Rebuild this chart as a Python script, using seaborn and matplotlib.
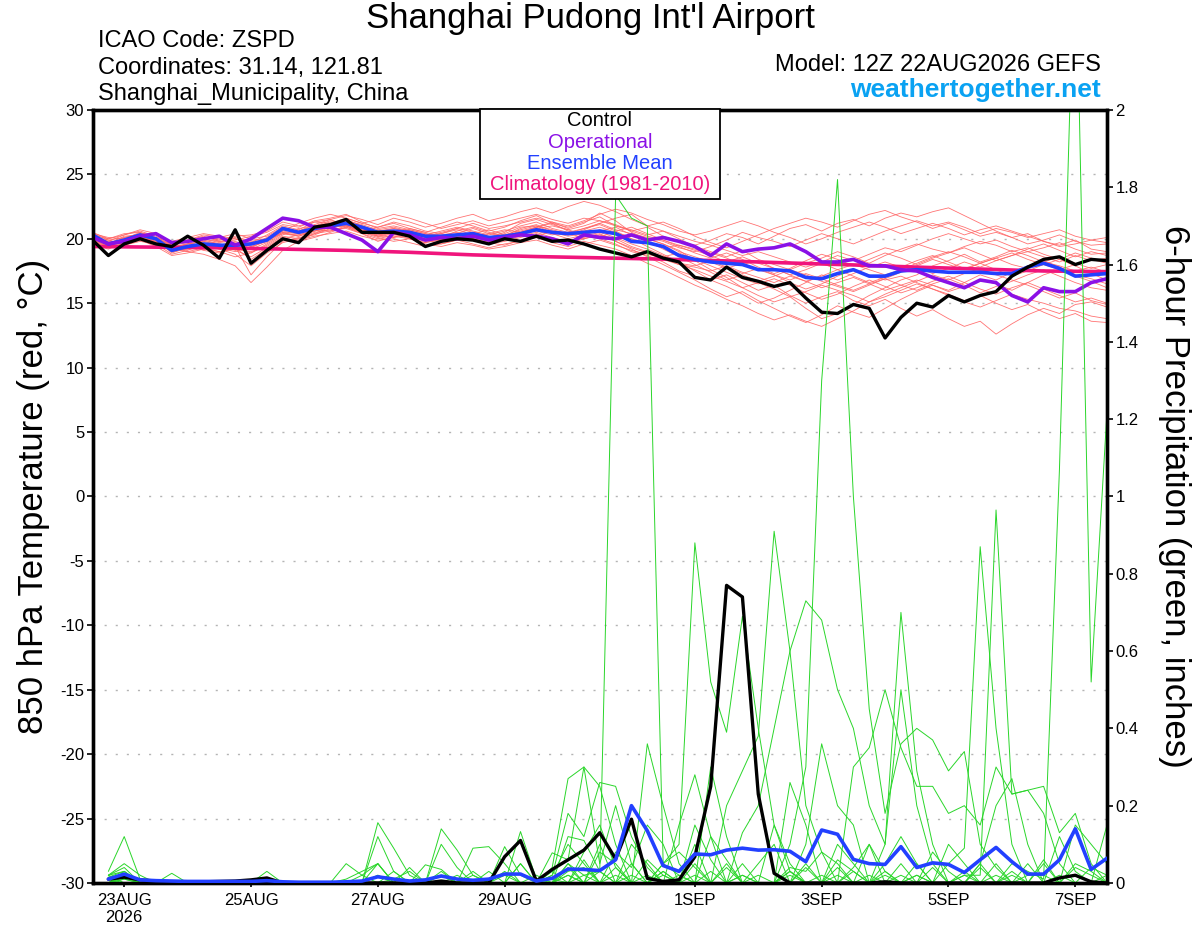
import numpy as np
import pandas as pd
import matplotlib
matplotlib.use("Agg")
import matplotlib.pyplot as plt
from matplotlib.patches import Rectangle
import seaborn as sns

# ----------------------------
# values
# ----------------------------
# 850 hPa temperature (C), every 6 h, 12Z 22AUG .. 12Z 7SEP (65 steps)
control_t = [19.9, 18.7, 19.6, 20.0, 19.6, 19.4, 20.2, 19.5, 18.5, 20.7, 18.1, 19.1, 20.0,
             19.7, 20.9, 21.1, 21.5, 20.5, 20.5, 20.5, 20.2, 19.4, 19.8, 20.0, 19.9, 19.6,
             20.0, 19.8, 20.2, 19.8, 19.9, 19.6, 19.2, 18.9, 18.6, 19.0, 18.5, 18.2, 17.0,
             16.8, 17.8, 17.0, 16.7, 16.3, 16.6, 15.4, 14.3, 14.2, 14.9, 14.6, 12.3, 13.9,
             15.0, 14.7, 15.6, 15.1, 15.6, 15.9, 17.1, 17.8, 18.4, 18.6, 18.0, 18.4, 18.3]
operational_t = [20.1, 19.6, 19.8, 20.2, 20.4, 19.7, 19.8, 20.0, 20.2, 19.5, 20.0, 20.8, 21.6,
                 21.4, 20.9, 20.9, 20.4, 19.9, 19.0, 20.5, 20.3, 19.9, 20.1, 20.0, 20.2, 19.9,
                 20.1, 20.3, 20.2, 20.0, 19.6, 20.3, 20.1, 20.0, 20.3, 19.9, 20.1, 19.8, 19.4,
                 18.7, 19.6, 19.0, 19.2, 19.3, 19.6, 19.0, 18.2, 18.2, 18.4, 17.9, 17.9, 17.6,
                 17.5, 17.0, 16.6, 16.2, 16.8, 16.6, 15.6, 15.1, 16.2, 15.9, 15.9, 16.6, 16.9]
mean_t = [20.3, 19.6, 19.9, 20.3, 20.0, 19.1, 19.4, 19.6, 19.5, 19.5, 19.6, 19.9, 20.8,
          20.5, 20.8, 21.0, 21.2, 20.9, 20.5, 20.6, 20.5, 20.2, 20.2, 20.3, 20.4, 20.1,
          20.2, 20.4, 20.7, 20.5, 20.4, 20.5, 20.6, 20.4, 19.8, 19.7, 19.4, 18.7, 18.4,
          18.2, 18.1, 18.0, 17.6, 17.6, 17.5, 17.0, 16.9, 17.3, 17.6, 17.1, 17.1, 17.5,
          17.6, 17.5, 17.4, 17.4, 17.4, 17.3, 17.3, 17.8, 18.1, 17.7, 17.1, 17.2, 17.3]
# climatology, daily at 12Z, 22AUG .. 7SEP
clim_t = [19.4, 19.35, 19.3, 19.2, 19.1, 18.95, 18.75, 18.62, 18.52,
          18.42, 18.28, 18.12, 17.97, 17.8, 17.65, 17.5, 17.45]

# ensemble members, temperature (same 65 steps)
red_members = [
    [20.1, 19.8, 20.3, 20.6, 20.2, 19.5, 19.9, 20.2, 19.8, 20.0, 19.7, 20.3, 21.0,
     20.7, 21.3, 21.5, 21.0, 20.6, 20.9, 21.2, 20.8, 20.5, 20.9, 21.3, 21.0, 20.6,
     20.9, 21.4, 21.8, 21.2, 20.9, 21.3, 21.7, 21.0, 20.6, 20.9, 20.2, 19.8, 19.5,
     19.9, 20.4, 20.1, 19.6, 20.2, 20.8, 21.1, 20.6, 21.2, 21.5, 21.0, 21.6, 22.0,
     21.7, 22.1, 22.4, 21.8, 21.2, 20.6, 20.1, 20.4, 19.8, 19.5, 19.9, 19.2, 19.0],
    [20.4, 19.9, 19.6, 20.1, 19.8, 19.0, 19.2, 19.5, 19.3, 19.0, 19.4, 19.8, 20.5,
     20.2, 20.6, 20.9, 21.3, 20.8, 20.2, 20.4, 20.0, 19.7, 20.1, 20.0, 20.3, 19.8,
     19.9, 20.2, 20.5, 20.1, 19.8, 20.2, 20.0, 19.6, 19.0, 18.7, 18.2, 17.5, 17.1,
     16.8, 17.2, 16.6, 16.0, 16.4, 15.6, 15.0, 15.5, 15.9, 15.2, 14.8, 15.3, 14.6,
     14.0, 14.5, 13.8, 13.2, 13.6, 12.6, 13.4, 14.1, 14.6, 14.2, 14.9, 15.1, 14.7],
    [20.2, 19.7, 19.9, 20.0, 19.6, 19.2, 19.0, 18.8, 18.4, 17.9, 16.6, 17.8, 19.1,
     19.8, 20.4, 20.9, 21.0, 20.7, 20.4, 20.1, 20.6, 20.3, 19.9, 20.1, 20.5, 20.2,
     20.0, 20.3, 20.9, 21.3, 20.8, 21.2, 22.0, 21.4, 20.5, 20.0, 19.6, 19.1, 18.3,
     17.6, 17.0, 16.2, 15.6, 15.1, 15.5, 14.6, 13.8, 14.2, 14.9, 15.6, 16.2, 16.8,
     17.2, 17.9, 18.3, 18.8, 18.2, 18.6, 19.1, 18.7, 18.2, 17.9, 17.5, 17.8, 17.4],
    [19.9, 19.5, 20.1, 20.4, 20.3, 19.6, 19.8, 20.0, 19.7, 19.9, 20.2, 20.5, 21.1,
     20.9, 21.4, 21.6, 21.9, 21.3, 20.8, 21.0, 20.7, 20.4, 20.1, 20.6, 20.9, 20.5,
     20.2, 20.8, 21.1, 20.6, 20.3, 20.7, 21.2, 21.6, 21.9, 21.0, 20.6, 20.0, 19.4,
     19.0, 18.6, 19.1, 18.4, 18.0, 17.6, 18.1, 18.5, 19.0, 18.6, 18.1, 18.7, 19.2,
     19.6, 19.2, 18.9, 19.4, 19.8, 19.5, 19.0, 19.3, 18.8, 18.4, 18.9, 18.5, 18.2],
    [20.0, 19.4, 19.7, 20.2, 19.9, 18.9, 19.3, 19.4, 19.6, 19.3, 18.9, 19.5, 20.2,
     20.0, 20.5, 20.7, 20.8, 20.4, 20.0, 20.3, 20.2, 19.9, 19.6, 19.9, 20.0, 19.7,
     19.5, 19.9, 20.3, 20.0, 19.6, 20.1, 20.4, 19.8, 19.2, 18.6, 18.0, 17.4, 16.8,
     16.1, 15.5, 15.9, 15.2, 14.6, 14.0, 13.5, 14.1, 14.8, 14.3, 13.9, 14.6, 15.3,
     15.9, 16.4, 16.0, 16.6, 17.2, 16.8, 17.4, 17.9, 18.3, 17.8, 17.2, 16.9, 16.5],
    [20.5, 20.0, 20.3, 20.7, 20.4, 19.7, 19.9, 20.3, 20.1, 20.4, 20.0, 20.2, 20.9,
     20.6, 21.1, 21.5, 21.8, 21.5, 21.1, 21.6, 21.3, 20.9, 21.2, 21.6, 21.9, 21.4,
     21.7, 22.1, 22.4, 22.0, 22.5, 22.9, 22.6, 22.1, 21.5, 21.0, 21.3, 20.8, 20.2,
     19.7, 19.3, 19.8, 20.3, 20.8, 21.2, 21.6, 21.3, 20.9, 21.4, 21.9, 22.2, 21.7,
     21.3, 20.8, 21.2, 20.7, 20.2, 20.5, 20.1, 19.6, 19.9, 20.3, 19.8, 19.5, 19.6],
    [19.8, 19.4, 19.8, 20.1, 19.7, 19.3, 19.6, 19.8, 19.9, 20.1, 19.8, 19.9, 20.4,
     20.3, 20.7, 20.6, 21.0, 20.5, 20.2, 20.1, 20.3, 20.0, 19.8, 20.2, 20.1, 19.8,
     20.0, 20.4, 20.6, 20.3, 20.5, 20.0, 20.3, 19.8, 19.3, 18.9, 18.4, 18.0, 17.8,
     17.5, 17.9, 17.4, 17.0, 16.6, 17.1, 16.7, 16.2, 16.6, 17.0, 16.5, 16.0, 16.4,
     16.8, 16.4, 15.9, 16.3, 16.8, 16.5, 16.0, 16.6, 17.2, 17.6, 17.1, 16.7, 16.2],
    [20.3, 19.6, 20.0, 20.5, 20.1, 19.4, 19.0, 19.3, 19.0, 18.6, 18.9, 19.6, 20.3,
     20.8, 21.0, 21.2, 21.5, 21.0, 20.6, 20.8, 20.5, 20.1, 20.4, 20.7, 20.3, 20.0,
     20.4, 20.9, 21.0, 20.5, 20.2, 20.4, 20.1, 20.6, 20.9, 20.4, 19.9, 19.5, 19.2,
     18.9, 18.5, 18.0, 18.3, 17.7, 17.2, 17.6, 18.1, 17.6, 17.1, 16.6, 17.0, 17.5,
     17.9, 18.4, 18.0, 17.6, 18.1, 18.5, 18.0, 17.7, 18.2, 18.6, 18.1, 17.7, 18.0],
    [20.1, 19.7, 19.8, 20.2, 20.0, 19.5, 19.7, 19.2, 19.5, 19.8, 19.4, 19.8, 20.6,
     20.4, 20.9, 21.3, 21.1, 20.7, 20.3, 20.6, 20.3, 20.0, 20.3, 20.5, 20.2, 20.4,
     20.7, 20.5, 20.9, 21.2, 20.6, 20.2, 20.5, 20.1, 19.6, 19.2, 18.7, 18.1, 17.9,
     18.3, 17.8, 17.3, 17.7, 17.2, 16.6, 16.1, 16.5, 17.1, 17.6, 17.2, 16.8, 17.1,
     16.6, 16.1, 15.7, 15.2, 15.6, 15.0, 14.5, 14.9, 14.3, 13.8, 14.2, 13.6, 13.5],
    [19.7, 19.3, 19.6, 19.9, 19.5, 19.1, 19.4, 19.7, 19.4, 19.6, 19.9, 20.0, 20.7,
     20.5, 20.8, 21.1, 21.3, 21.0, 20.5, 20.8, 20.6, 20.3, 20.6, 20.9, 20.6, 20.3,
     20.6, 21.0, 21.3, 20.8, 20.5, 20.8, 21.2, 20.7, 20.4, 20.1, 19.8, 19.3, 19.0,
     19.4, 19.9, 20.5, 20.1, 19.8, 19.4, 19.9, 20.4, 20.0, 19.6, 20.1, 20.6, 21.0,
     21.4, 21.0, 21.3, 20.9, 20.4, 20.8, 20.5, 20.1, 20.4, 20.7, 20.2, 19.9, 20.1],
    [20.0, 19.6, 20.2, 20.3, 19.9, 19.2, 19.5, 19.9, 19.6, 19.4, 17.2, 18.6, 19.8,
     20.1, 20.3, 20.8, 21.1, 20.6, 20.2, 20.5, 20.1, 19.8, 20.0, 20.3, 20.0, 19.7,
     20.1, 20.4, 20.2, 20.6, 20.3, 20.6, 20.9, 20.5, 20.0, 19.4, 18.8, 18.2, 17.5,
     16.8, 16.3, 15.7, 15.0, 15.4, 16.0, 16.6, 17.2, 16.8, 17.3, 17.8, 18.2, 17.8,
     18.3, 18.7, 18.2, 17.7, 18.1, 17.6, 17.1, 17.5, 18.0, 18.4, 17.9, 17.3, 16.8],
    [20.2, 19.8, 19.5, 19.8, 19.6, 18.8, 19.1, 19.6, 19.8, 19.7, 19.5, 20.1, 20.8,
     20.6, 21.0, 21.4, 21.2, 20.9, 20.6, 20.3, 20.7, 20.4, 20.1, 20.4, 20.8, 20.4,
     20.2, 20.6, 20.9, 20.4, 20.0, 20.3, 20.7, 20.4, 20.2, 20.0, 19.6, 19.0, 18.6,
     18.2, 17.7, 18.1, 17.6, 17.2, 16.8, 17.3, 16.9, 16.4, 16.0, 16.5, 16.9, 17.4,
     17.8, 17.3, 17.7, 18.2, 17.8, 18.3, 18.7, 19.0, 18.6, 18.2, 18.7, 18.3, 18.5],
    [19.6, 19.2, 19.7, 20.0, 19.8, 19.3, 19.5, 19.1, 18.9, 19.3, 18.4, 19.2, 20.0,
     19.9, 20.2, 20.4, 20.6, 20.2, 19.9, 20.0, 19.7, 19.4, 19.6, 19.9, 19.6, 19.3,
     19.6, 19.8, 20.1, 19.7, 19.4, 19.8, 19.5, 19.2, 18.7, 18.1, 17.6, 17.0, 16.4,
     15.9, 15.3, 14.8, 14.2, 13.7, 14.1, 13.6, 13.2, 13.8, 14.4, 15.1, 15.7, 16.2,
     16.7, 17.2, 16.8, 17.3, 17.7, 17.2, 16.8, 16.4, 15.9, 15.4, 15.8, 15.2, 14.9],
    [20.4, 20.1, 20.0, 20.4, 20.1, 19.8, 20.1, 20.4, 20.2, 20.0, 19.6, 20.0, 20.6,
     21.2, 21.6, 21.9, 21.6, 21.2, 21.5, 21.9, 21.6, 21.2, 20.8, 21.1, 21.4, 21.0,
     21.3, 21.6, 21.9, 21.5, 21.2, 21.6, 21.4, 21.0, 20.7, 20.3, 20.6, 20.2, 19.8,
     19.5, 19.1, 18.7, 19.0, 18.6, 18.2, 17.8, 18.2, 18.7, 18.3, 18.8, 19.3, 19.0,
     19.5, 20.0, 20.4, 20.0, 19.6, 19.9, 19.4, 19.0, 19.3, 19.7, 19.2, 18.8, 18.9],
    [19.9, 19.4, 19.9, 20.3, 20.1, 19.4, 19.6, 19.8, 19.5, 19.1, 18.6, 19.3, 20.0,
     20.3, 20.6, 20.9, 21.0, 20.6, 20.3, 20.5, 20.8, 20.5, 20.2, 20.0, 20.4, 20.7,
     20.3, 20.5, 20.8, 21.0, 20.7, 20.3, 20.6, 20.9, 20.3, 19.8, 19.2, 18.6, 18.0,
     17.4, 16.8, 17.2, 16.7, 17.1, 17.6, 17.2, 16.7, 16.3, 15.9, 16.4, 16.9, 16.4,
     16.0, 16.5, 16.9, 16.4, 15.8, 16.3, 16.7, 17.2, 17.6, 17.1, 16.6, 16.2, 16.0],
    [20.0, 19.5, 19.8, 20.1, 19.9, 19.3, 19.3, 19.6, 19.2, 19.4, 19.2, 19.7, 20.4,
     20.2, 20.6, 20.9, 21.2, 20.8, 20.4, 20.6, 20.4, 20.1, 19.9, 20.2, 20.4, 20.1,
     20.3, 20.7, 21.0, 20.7, 20.4, 20.8, 21.1, 20.6, 20.0, 19.7, 19.3, 19.5, 19.1,
     18.7, 18.2, 18.6, 18.1, 17.7, 17.2, 16.7, 17.1, 17.6, 18.0, 17.6, 17.2, 17.6,
     18.1, 18.6, 19.0, 18.6, 18.1, 18.5, 18.9, 18.4, 18.0, 17.6, 18.0, 18.4, 18.1],
    [20.2, 19.9, 20.1, 20.3, 19.7, 19.1, 19.6, 20.1, 20.0, 19.6, 19.3, 19.9, 20.5,
     20.4, 20.8, 21.0, 21.4, 21.1, 20.7, 20.9, 20.6, 20.2, 20.5, 20.8, 20.5, 20.1,
     20.5, 21.2, 21.5, 21.1, 20.7, 21.0, 21.4, 21.1, 20.6, 20.2, 19.9, 19.4, 18.9,
     18.5, 18.9, 18.4, 17.8, 17.3, 17.7, 18.3, 18.8, 18.4, 17.9, 18.4, 18.9, 18.5,
     18.0, 18.5, 18.9, 19.3, 18.8, 18.3, 18.7, 19.2, 19.6, 19.1, 18.6, 19.0, 18.7],
    [19.8, 19.3, 19.5, 19.9, 19.4, 18.7, 18.9, 19.2, 19.0, 19.2, 19.0, 19.4, 20.1,
     19.8, 20.1, 20.5, 20.9, 20.5, 20.1, 19.8, 20.0, 19.6, 19.4, 19.7, 19.5, 19.2,
     19.4, 19.7, 19.9, 19.5, 19.2, 19.6, 19.9, 19.5, 19.1, 18.8, 18.5, 18.0, 17.6,
     17.1, 16.7, 16.2, 16.6, 16.1, 15.5, 15.9, 16.4, 16.0, 15.6, 15.1, 15.5, 16.0,
     16.5, 16.1, 15.6, 15.1, 14.7, 15.2, 15.7, 15.3, 15.0, 14.6, 14.4, 14.0, 13.8],
    [20.3, 20.0, 20.4, 20.5, 20.0, 19.6, 19.9, 20.1, 19.9, 20.2, 20.3, 20.6, 21.3,
     21.0, 21.3, 21.2, 21.6, 21.2, 20.9, 21.3, 21.0, 20.6, 20.4, 20.8, 21.2, 20.8,
     21.0, 21.3, 21.6, 21.3, 21.0, 21.4, 21.9, 22.3, 22.0, 21.5, 21.1, 20.6, 20.3,
     20.6, 21.0, 21.4, 21.0, 20.5, 20.1, 19.6, 20.0, 20.5, 20.9, 21.3, 20.9, 20.4,
     20.8, 21.2, 20.8, 20.3, 20.7, 21.0, 20.6, 20.2, 19.8, 19.4, 19.6, 19.9, 19.7],
    [20.0, 19.7, 20.0, 20.2, 19.8, 19.0, 19.3, 19.5, 19.2, 18.8, 17.9, 18.9, 19.7,
     20.0, 20.4, 20.6, 20.9, 20.4, 19.8, 20.2, 20.0, 19.7, 19.9, 20.1, 19.9, 19.6,
     19.8, 20.1, 20.4, 19.9, 19.6, 20.0, 20.3, 20.0, 19.4, 19.0, 18.6, 18.9, 18.4,
     17.9, 17.4, 16.9, 16.5, 16.9, 16.4, 15.8, 15.3, 15.7, 16.3, 16.8, 16.3, 15.8,
     16.2, 16.7, 17.1, 16.6, 16.1, 15.7, 16.2, 16.6, 16.1, 15.6, 15.1, 15.4, 15.0],
]

# 6-hour precipitation (in), every 6 h, 18Z 22AUG .. 12Z 7SEP (64 steps)
control_p = [0.01, 0.015, 0.008, 0.005, 0.003, 0.002, 0.003, 0.004, 0.005, 0.008, 0.013, 0.0, 0.0,
             0.0, 0.0, 0.0, 0.0, 0.0, 0.0, 0.0, 0.0, 0.005, 0.0, 0.0, 0.0, 0.068,
             0.11, 0.005, 0.035, 0.06, 0.085, 0.13, 0.062, 0.165, 0.012, 0.004, 0.008, 0.068,
             0.25, 0.77, 0.74, 0.23, 0.025, 0.0, 0.0, 0.0, 0.0, 0.0, 0.0, 0.003,
             0.0, 0.0, 0.0, 0.0, 0.0, 0.0, 0.0, 0.0, 0.0, 0.0, 0.013, 0.02, 0.003, 0.0]
mean_p = [0.01, 0.023, 0.008, 0.006, 0.005, 0.004, 0.004, 0.004, 0.004, 0.004, 0.006, 0.003, 0.002,
          0.002, 0.002, 0.003, 0.005, 0.016, 0.01, 0.005, 0.008, 0.018, 0.01, 0.007, 0.01, 0.023,
          0.023, 0.005, 0.012, 0.036, 0.035, 0.032, 0.06, 0.2, 0.135, 0.045, 0.03, 0.075,
          0.073, 0.085, 0.09, 0.085, 0.086, 0.082, 0.055, 0.137, 0.126, 0.061, 0.05, 0.048,
          0.094, 0.04, 0.052, 0.048, 0.027, 0.06, 0.092, 0.055, 0.023, 0.023, 0.06, 0.14, 0.035, 0.064]

# members, precipitation: only the non-zero steps (1 = 18Z 22AUG)
green_members = [
    {1: 0.02, 2: 0.04, 18: 0.05, 22: 0.03, 30: 0.12, 31: 0.11, 32: 0.03, 33: 1.78, 34: 1.72,
     35: 1.70, 36: 0.05, 37: 0.02, 44: 0.03, 52: 0.02},
    {1: 0.03, 2: 0.12, 3: 0.01, 18: 0.156, 19: 0.09, 20: 0.02, 26: 0.03, 29: 0.04, 30: 0.27,
     31: 0.30, 32: 0.25, 33: 0.1, 36: 0.05, 37: 0.1, 38: 0.88, 39: 0.52, 40: 0.39, 41: 0.69,
     42: 0.4, 43: 0.15, 44: 0.05, 47: 0.06, 48: 0.03},
    {2: 0.03, 16: 0.05, 17: 0.02, 22: 0.14, 23: 0.085, 24: 0.02, 29: 0.02, 30: 0.18, 31: 0.12,
     32: 0.26, 33: 0.25, 34: 0.12, 35: 0.04, 38: 0.1, 40: 0.2, 41: 0.29, 42: 0.38, 43: 0.91,
     44: 0.6, 45: 0.2, 46: 0.08, 50: 0.05, 51: 0.12, 52: 0.05},
    {1: 0.015, 2: 0.03, 5: 0.025, 27: 0.05, 30: 0.05, 31: 0.02, 35: 0.02, 44: 0.02, 48: 0.03,
     55: 0.02, 58: 0.05, 59: 0.03, 60: 0.01, 61: 1.07, 62: 2.5, 63: 0.52, 64: 1.22},
    {2: 0.02, 18: 0.12, 19: 0.03, 24: 0.09, 25: 0.094, 26: 0.05, 31: 0.08, 32: 0.15, 33: 0.04,
     36: 0.02, 44: 0.1, 45: 0.3, 46: 1.3, 47: 1.82, 48: 1.0, 49: 0.45, 50: 0.18, 51: 0.36,
     52: 0.4, 53: 0.37, 54: 0.29, 55: 0.34, 56: 0.1, 57: 0.04},
    {2: 0.01, 11: 0.03, 18: 0.02, 22: 0.1, 23: 0.04, 27: 0.133, 28: 0.01, 30: 0.04, 32: 0.1,
     35: 0.36, 36: 0.2, 37: 0.05, 39: 0.3, 40: 0.12, 45: 0.1, 46: 0.36, 47: 0.2, 48: 0.15,
     50: 0.1, 51: 0.70, 52: 0.29, 53: 0.1, 56: 0.05, 57: 0.2, 58: 0.27, 59: 0.1},
    {1: 0.02, 2: 0.05, 3: 0.02, 19: 0.03, 21: 0.047, 22: 0.035, 27: 0.05, 29: 0.078, 30: 0.06,
     31: 0.3, 32: 0.05, 33: 0.2, 34: 0.05, 37: 0.15, 38: 0.28, 39: 0.12, 41: 0.13, 42: 0.2,
     43: 0.4, 44: 0.6, 45: 0.73, 46: 0.68, 47: 0.5, 48: 0.4, 49: 0.2, 50: 0.1, 51: 0.50,
     52: 0.2, 53: 0.05},
    {1: 0.01, 2: 0.02, 16: 0.01, 17: 0.03, 18: 0.05, 20: 0.04, 24: 0.03, 29: 0.02, 30: 0.1,
     31: 0.05, 33: 0.08, 34: 0.04, 35: 0.15, 36: 0.1, 38: 0.15, 39: 0.06, 41: 0.02, 44: 0.26,
     45: 0.15, 48: 0.3, 49: 0.35, 50: 0.5, 51: 0.35, 52: 0.25, 53: 0.25, 54: 0.18, 55: 0.2,
     56: 0.15, 57: 0.3, 58: 0.23, 59: 0.24, 60: 0.25, 61: 0.13, 62: 0.18, 63: 0.05},
    {2: 0.015, 23: 0.02, 26: 0.094, 27: 0.02, 30: 0.02, 32: 0.03, 34: 0.1, 35: 0.05, 38: 0.05,
     42: 0.05, 43: 0.1, 47: 0.04, 54: 0.05, 55: 0.09, 56: 0.87, 57: 0.4, 58: 0.1, 60: 0.05,
     62: 0.15, 63: 0.1, 64: 0.05},
    {1: 0.02, 2: 0.03, 18: 0.02, 22: 0.02, 25: 0.03, 29: 0.03, 31: 0.06, 33: 0.04, 36: 0.03,
     40: 0.05, 45: 0.05, 50: 0.03, 52: 0.02, 55: 0.02, 56: 0.02, 57: 0.965, 58: 0.23,
     59: 0.24, 60: 0.18, 61: 0.05, 64: 0.15},
    {2: 0.02, 19: 0.01, 20: 0.03, 28: 0.02, 30: 0.05, 32: 0.08, 33: 0.05, 36: 0.05, 37: 0.08,
     38: 0.04, 41: 0.05, 44: 0.04, 45: 0.03, 46: 0.08, 47: 0.05, 49: 0.1, 51: 0.05, 53: 0.08,
     54: 0.03, 56: 0.04, 58: 0.03, 60: 0.06, 62: 0.04, 63: 0.02},
    {1: 0.01, 17: 0.02, 18: 0.05, 24: 0.02, 30: 0.03, 31: 0.04, 33: 0.02, 35: 0.06, 36: 0.02,
     39: 0.12, 40: 0.06, 42: 0.02, 44: 0.03, 47: 0.1, 48: 0.05, 50: 0.02, 52: 0.05, 54: 0.1,
     55: 0.05, 57: 0.02, 59: 0.05, 61: 0.12, 62: 0.03, 64: 0.02},
    {2: 0.01, 22: 0.02, 26: 0.02, 29: 0.01, 31: 0.02, 32: 0.03, 34: 0.02, 36: 0.03, 38: 0.02,
     40: 0.04, 43: 0.15, 44: 0.03, 46: 0.02, 48: 0.04, 49: 0.1, 50: 0.03, 53: 0.04, 55: 0.03,
     57: 0.05, 59: 0.02, 60: 0.02, 62: 0.05, 63: 0.03},
    {1: 0.02, 30: 0.02, 34: 0.05, 37: 0.02, 39: 0.03, 41: 0.02, 45: 0.04, 47: 0.02, 49: 0.02,
     51: 0.02, 56: 0.05, 58: 0.02, 61: 0.02, 63: 0.04, 64: 0.02},
]

tick_days = ["2026-08-23", "2026-08-25", "2026-08-27", "2026-08-29",
             "2026-09-01", "2026-09-03", "2026-09-05", "2026-09-07"]
tick_labels = ["23AUG\n2026", "25AUG", "27AUG", "29AUG", "1SEP", "3SEP", "5SEP", "7SEP"]

# ----------------------------
# tables for seaborn
# ----------------------------
t_times = pd.date_range("2026-08-22 12:00", periods=len(control_t), freq="6h")
p_times = t_times[1:]
c_times = pd.date_range("2026-08-22 12:00", periods=len(clim_t), freq="D")

red_df = pd.concat(
    [pd.DataFrame({"time": t_times, "temp": m, "member": i}) for i, m in enumerate(red_members)],
    ignore_index=True)

green_rows = []
for i, m in enumerate(green_members):
    vals = np.zeros(len(p_times))
    for k, v in m.items():
        vals[k - 1] = v
    green_rows.append(pd.DataFrame({"time": p_times, "precip": vals, "member": i}))
green_df = pd.concat(green_rows, ignore_index=True)

# ----------------------------
# plot
# ----------------------------
sns.set_style("ticks")
plt.rcParams["font.family"] = ["Liberation Sans", "DejaVu Sans"]
plt.rcParams["axes.unicode_minus"] = False
for key in ("text.color", "axes.labelcolor", "xtick.color", "ytick.color"):
    plt.rcParams[key] = "black"

fig = plt.figure(figsize=(12, 9.27), dpi=100)
ax = fig.add_axes([0.0771, 0.0475, 0.8454, 0.8339])

RED = "#ff6464"
GREEN = "#2ad62a"
BLACK = "#000000"
PURPLE = "#8a10e6"
BLUE = "#2240ff"
PINK = "#f0147c"

sns.lineplot(data=red_df, x="time", y="temp", units="member", estimator=None,
             color=RED, linewidth=0.6, alpha=0.9, ax=ax, zorder=2)
sns.lineplot(x=c_times, y=clim_t, color=PINK, linewidth=2.6, ax=ax, zorder=3)
sns.lineplot(x=t_times, y=mean_t, color=BLUE, linewidth=2.6, ax=ax, zorder=4)
sns.lineplot(x=t_times, y=operational_t, color=PURPLE, linewidth=2.6, ax=ax, zorder=5)
sns.lineplot(x=t_times, y=control_t, color=BLACK, linewidth=2.4, ax=ax, zorder=6)

ax.set_xlim(pd.Timestamp("2026-08-22 12:00"), pd.Timestamp("2026-09-07 12:00"))
ax.set_ylim(-30, 30)
ax.set_yticks(range(-30, 31, 5))
ax.set_xticks(pd.to_datetime(tick_days))
ax.set_xticklabels(tick_labels)
ax.set_xlabel("")
ax.set_ylabel("")
ax.yaxis.grid(True, color="#b4b4b4", linestyle=(0, (1.5, 6.5)), linewidth=1.0)
ax.xaxis.grid(False)
ax.set_axisbelow(True)
ax.tick_params(axis="y", length=4, width=1.2, labelsize=12, pad=2)
ax.tick_params(axis="x", length=3, width=1.2, labelsize=12, pad=4)

ax2 = ax.twinx()
sns.lineplot(data=green_df, x="time", y="precip", units="member", estimator=None,
             color=GREEN, linewidth=0.7, ax=ax2, zorder=2)
sns.lineplot(x=p_times, y=control_p, color=BLACK, linewidth=2.4, ax=ax2, zorder=3)
sns.lineplot(x=p_times, y=mean_p, color=BLUE, linewidth=2.6, ax=ax2, zorder=4)
ax2.set_ylim(0, 2)
ax2.set_yticks(np.arange(0, 2.01, 0.2))
ax2.set_yticklabels([f"{v:g}" for v in np.round(np.arange(0, 2.01, 0.2), 1)])
ax2.set_xlim(ax.get_xlim())
ax2.set_ylabel("")
ax2.set_xlabel("")
ax2.tick_params(axis="y", length=4, width=1.2, labelsize=12, pad=2)

for a in (ax, ax2):
    for s in a.spines.values():
        s.set_linewidth(2.4)
        s.set_color("black")

# legend box
ax2.add_patch(Rectangle((0.382, 0.885), 0.2365, 0.1163, transform=ax2.transAxes,
                        facecolor="white", edgecolor="black", linewidth=1.3,
                        clip_on=False, zorder=20))
legend_items = [("Control", BLACK, 0.9862), ("Operational", PURPLE, 0.9582),
                ("Ensemble Mean", BLUE, 0.9301), ("Climatology (1981-2010)", PINK, 0.9030)]
for txt, col, yy in legend_items:
    ax2.text(0.5, yy, txt, color=col, fontsize=14.5, ha="center", va="center",
             transform=ax2.transAxes, zorder=21)

# headings
fig.text(0.4917, 1 - 28.3 / 927, "Shanghai Pudong Int'l Airport", fontsize=25,
         ha="center", va="baseline")
fig.text(0.0817, 1 - 46.7 / 927, "ICAO Code: ZSPD", fontsize=17, va="baseline")
fig.text(0.0817, 1 - 74 / 927, "Coordinates: 31.14, 121.81", fontsize=17, va="baseline")
fig.text(0.0817, 1 - 100 / 927, "Shanghai_Municipality, China", fontsize=17, va="baseline")
fig.text(0.9175, 1 - 71 / 927, "Model: 12Z 22AUG2026 GEFS", fontsize=17,
         ha="right", va="baseline")
fig.text(0.9175, 1 - 96.7 / 927, "weathertogether.net", fontsize=19, fontweight="bold",
         color="#0aa2f2", ha="right", va="baseline")

fig.text(34 / 1200, 0.4645, "850 hPa Temperature (red, °C)", fontsize=25,
         rotation=90, ha="center", va="center")
fig.text(1175 / 1200, 0.4645, "6-hour Precipitation (green, inches)", fontsize=25,
         rotation=270, ha="center", va="center")

fig.savefig("out.png", dpi=100)
